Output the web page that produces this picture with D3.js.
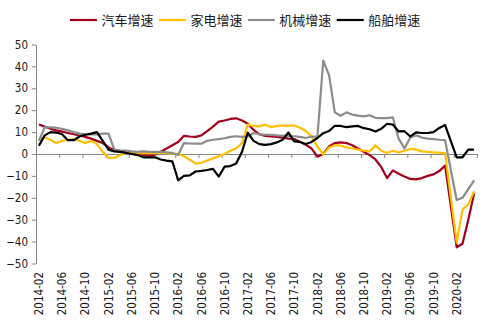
<!DOCTYPE html>
<html><head><meta charset="utf-8">
<script src="https://cdn.jsdelivr.net/npm/d3@7"></script>
<style>
body{margin:0;background:#fff}
svg{display:block}
.num{font-family:"DejaVu Sans Condensed","DejaVu Sans",sans-serif;font-size:11.5px;fill:#1a1a1a}
.leg{font-family:"Noto Sans CJK SC",sans-serif;font-size:13px;fill:#1a1a1a}
</style></head><body>
<svg id="c" width="492" height="330"></svg>
<script>
const months=["2014-02","2014-03","2014-04","2014-05","2014-06","2014-07","2014-08","2014-09","2014-10","2014-11","2014-12","2015-01",
"2015-02","2015-03","2015-04","2015-05","2015-06","2015-07","2015-08","2015-09","2015-10","2015-11","2015-12","2016-01",
"2016-02","2016-03","2016-04","2016-05","2016-06","2016-07","2016-08","2016-09","2016-10","2016-11","2016-12","2017-01",
"2017-02","2017-03","2017-04","2017-05","2017-06","2017-07","2017-08","2017-09","2017-10","2017-11","2017-12","2018-01",
"2018-02","2018-03","2018-04","2018-05","2018-06","2018-07","2018-08","2018-09","2018-10","2018-11","2018-12","2019-01",
"2019-02","2019-03","2019-04","2019-05","2019-06","2019-07","2019-08","2019-09","2019-10","2019-11","2019-12","2020-01",
"2020-02","2020-03","2020-04","2020-05"];
const seriesNames=["汽车增速","家电增速","机械增速","船舶增速"];
const autoGrowth=[13.5,12.5,11.5,10.8,10.2,9.6,9,8.5,7.8,7,6,5,3,1.8,1,0.6,0.3,0,-0.4,-0.8,-0.3,1,2.5,4,5.5,8.3,8,7.8,8.5,10.5,12.5,14.8,15.3,16,16.3,15.3,13.8,11,9,8.3,8,7.8,7.5,7,6.8,5.5,4.2,2.5,-1.2,0,3.5,5,5.3,5,4,2.5,1,-0.5,-2.5,-6,-11,-7.5,-9,-10.3,-11.4,-11.6,-11,-10,-9.3,-7.8,-5.3,null,-42.6,-41,-30,-18];
const applianceGrowth=[6.5,7.5,6.5,5,6,6.5,6.8,6,5,6,4.5,1,-1.8,-1.8,-0.5,0.5,0.7,0.5,0.3,0.5,0.3,0.5,0.5,0.2,0,-1,-2.6,-4.4,-4,-3,-2,-1,0,1.5,2.5,5,13.4,12.8,12.6,13.4,12.3,12.8,13,13,13,12,10.5,8,3.5,-0.3,3,4,3.8,3,2.5,2,1.5,1.2,4,1.5,0.5,1.5,0.7,1.5,2.3,2,1.2,1,0.7,0.6,0.4,null,-40.5,-25.3,-23,-17];
const machineryGrowth=[6,12.3,12.2,12,11.5,10.8,10,9.3,9,9,8.9,9.3,9.3,2,1.7,1.5,1.2,1,1.2,1,1,1,0.8,0.5,-0.5,5,4.8,4.7,4.7,6,6.5,6.8,7.2,7.8,8.1,7.8,8,9.6,9,8.8,8.8,8.5,8.4,8.2,8.1,7.8,7.3,8,7.8,42.7,36,19,17.5,19,18,17.5,17.2,17.7,16.5,16.4,16.4,16.7,7,2.5,7.5,8.5,7.5,7,6.8,6.5,6.3,null,-21,-20,-16,-12];
const shipGrowth=[3.8,8.5,10,9.8,9,6.3,6.3,8,8.8,9.3,10,6,2,1.2,1,0.5,0,-0.5,-1.5,-1.5,-1.5,-2.5,-3,-3.4,-12,-10,-9.8,-8,-7.7,-7.3,-6.8,-10.3,-5.8,-5.5,-4.3,1,9.8,6,4.5,4.2,4.5,5.3,6.5,9.8,5.8,5.5,4.6,5.5,7.3,9.5,10.5,12.9,12.8,12.3,12.6,12.8,11.8,11.3,10.3,11.5,13.8,13.4,10.3,10.4,8,9.9,9.6,9.6,10,11.9,13.2,null,-1.5,-1.5,2,2];
const yTicks=[-50,-40,-30,-20,-10,0,10,20,30,40,50];
const xTickLabels=["2014-02","2014-06","2014-10","2015-02","2015-06","2015-10","2016-02","2016-06","2016-10","2017-02","2017-06","2017-10","2018-02","2018-06","2018-10","2019-02","2019-06","2019-10","2020-02"];

const colors=["#A3001C","#FFC000","#8C8C8C","#000000"];
const series=[autoGrowth,applianceGrowth,machineryGrowth,shipGrowth];

const svg=d3.select("#c");
const L=36,R=477,T=44.5,B=263.5;
const x=d3.scaleBand().domain(months).range([L,R]).padding(0);
const xi=d3.scaleLinear().domain([0,months.length]).range([L,R]);
const y=d3.scaleLinear().domain([-50,50]).range([B,T]);
const bw=x.bandwidth();
const axisColor="#878787";

// Y axis
const ya=svg.append("g").attr("transform",`translate(${L},0)`)
  .call(d3.axisLeft(y).tickValues(yTicks).tickSize(4).tickSizeOuter(0).tickPadding(4));
ya.select(".domain").attr("stroke",axisColor);
ya.selectAll(".tick line").attr("stroke",axisColor);
ya.selectAll("text").attr("class","num").attr("fill",null);
ya.attr("font-family",null).attr("font-size",null);

// X axis at zero
const xa=svg.append("g").attr("transform",`translate(0,${y(0)})`)
  .call(d3.axisBottom(xi).tickValues(d3.range(0,months.length+1,4)).tickSize(4).tickSizeOuter(0).tickFormat(""));
xa.select(".domain").attr("stroke",axisColor);
xa.selectAll(".tick line").attr("stroke",axisColor);

// X labels
const xl=svg.append("g").attr("transform","translate(0,268)")
  .call(d3.axisBottom(x).tickValues(xTickLabels).tickSize(0).tickPadding(0));
xl.select(".domain").remove();
xl.attr("font-family",null).attr("font-size",null);
xl.selectAll("text").attr("class","num").attr("fill",null)
  .attr("transform","rotate(-90)").attr("text-anchor","end")
  .attr("x",-4).attr("y",0).attr("dy","0.36em");

// Lines
const line=d3.line().x(d=>x(d.m)+bw/2).y(d=>y(d.v)).curve(d3.curveLinear);
series.forEach((s,k)=>{
  const pts=s.map((v,i)=>({m:months[i],v})).filter(d=>d.v!==null);
  svg.append("path").datum(pts).attr("d",line).attr("fill","none")
    .attr("stroke",colors[k]).attr("stroke-width",2.2).attr("stroke-linejoin","round");
});

// Legend
const lg=svg.append("g").attr("transform","translate(70,20)");
seriesNames.forEach((n,k)=>{
  const g=lg.append("g").attr("transform",`translate(${k*88.9},0)`);
  g.append("line").attr("x1",0).attr("x2",27).attr("y1",0).attr("y2",0)
    .attr("stroke",colors[k]).attr("stroke-width",2.2);
  g.append("text").attr("class","leg").attr("x",31.5).attr("y",0).attr("dy","0.36em").text(n);
});
</script>
</body></html>
